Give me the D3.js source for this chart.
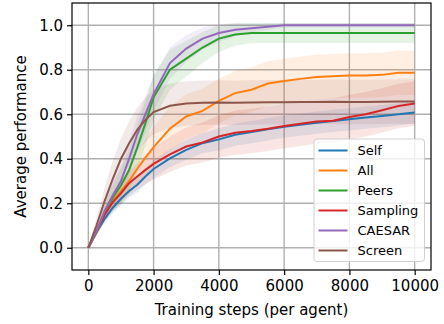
<!DOCTYPE html>
<html>
<head>
<meta charset="utf-8">
<script src="https://cdn.jsdelivr.net/npm/d3@7"></script>
<style>
    body { margin: 0; background: #fff; }
    text { font-family: "DejaVu Sans", sans-serif; fill: #000; }
</style>
</head>
<body>
<div id="chart"></div>
<script>
const steps = [0, 250, 500, 750, 1000, 1250, 1500, 1750, 2000, 2500, 3000, 3500, 4000,
    4500, 5000, 5500, 6000, 6500, 7000, 7500, 8000, 8500, 9000, 9500, 10000];

const seriesNames = ["Self", "All", "Peers", "Sampling", "CAESAR", "Screen"];
const seriesColors = ["#1f77b4", "#ff7f0e", "#2ca02c", "#d62728", "#9467bd", "#8c564b"];

// mean performance
const selfMean = [0, 0.07, 0.13, 0.18, 0.22, 0.255, 0.283, 0.32, 0.354, 0.402, 0.44, 0.47, 0.487,
    0.508, 0.52, 0.532, 0.544, 0.553, 0.562, 0.57, 0.577, 0.585, 0.592, 0.6, 0.608];
const allMean = [0, 0.07, 0.155, 0.21, 0.255, 0.3, 0.355, 0.405, 0.452, 0.535, 0.59, 0.615, 0.66,
    0.695, 0.71, 0.738, 0.749, 0.759, 0.767, 0.771, 0.774, 0.774, 0.777, 0.786, 0.786];
const peersMean = [0, 0.07, 0.16, 0.225, 0.28, 0.35, 0.45, 0.56, 0.676, 0.8, 0.85, 0.9, 0.94,
    0.958, 0.965, 0.965, 0.965, 0.965, 0.965, 0.965, 0.965, 0.965, 0.965, 0.965, 0.965];
const samplingMean = [0, 0.075, 0.148, 0.205, 0.245, 0.29, 0.32, 0.35, 0.377, 0.42, 0.455, 0.473, 0.5,
    0.517, 0.525, 0.535, 0.547, 0.557, 0.567, 0.571, 0.588, 0.6, 0.618, 0.637, 0.648];
const caesarMean = [0, 0.075, 0.165, 0.235, 0.3, 0.4, 0.51, 0.6, 0.69, 0.83, 0.895, 0.94, 0.965,
    0.98, 0.987, 0.993, 1.0, 1.0, 1.0, 1.0, 1.0, 1.0, 1.0, 1.0, 1.0];
const screenMean = [0, 0.1, 0.21, 0.31, 0.4, 0.47, 0.53, 0.575, 0.61, 0.638, 0.648, 0.652, 0.653,
    0.652, 0.653, 0.654, 0.654, 0.655, 0.655, 0.656, 0.655, 0.655, 0.656, 0.657, 0.657];

// spread of the shaded band (+/-)
const selfStd = [0, 0.01, 0.02, 0.025, 0.03, 0.03, 0.035, 0.035, 0.04, 0.04, 0.045, 0.045, 0.05,
    0.05, 0.05, 0.05, 0.05, 0.05, 0.05, 0.05, 0.05, 0.05, 0.05, 0.05, 0.05];
const allStd = [0, 0.015, 0.03, 0.04, 0.05, 0.06, 0.07, 0.08, 0.09, 0.1, 0.1, 0.1, 0.1,
    0.1, 0.1, 0.1, 0.1, 0.1, 0.1, 0.1, 0.1, 0.1, 0.1, 0.1, 0.1];
const peersStd = [0, 0.02, 0.04, 0.06, 0.08, 0.09, 0.1, 0.1, 0.1, 0.09, 0.08, 0.07, 0.06,
    0.05, 0.045, 0.045, 0.045, 0.045, 0.045, 0.045, 0.045, 0.045, 0.045, 0.045, 0.045];
const samplingStd = [0, 0.015, 0.03, 0.04, 0.05, 0.055, 0.06, 0.065, 0.07, 0.08, 0.085, 0.09, 0.095,
    0.1, 0.1, 0.1, 0.1, 0.1, 0.1, 0.1, 0.1, 0.1, 0.1, 0.1, 0.1];
const caesarStd = [0, 0.02, 0.04, 0.06, 0.07, 0.08, 0.08, 0.08, 0.08, 0.07, 0.06, 0.05, 0.04,
    0.03, 0.02, 0.015, 0.01, 0.01, 0.01, 0.01, 0.01, 0.01, 0.01, 0.01, 0.01];
const screenStd = [0, 0.03, 0.06, 0.08, 0.09, 0.1, 0.1, 0.1, 0.1, 0.1, 0.1, 0.1, 0.1,
    0.1, 0.1, 0.1, 0.1, 0.1, 0.1, 0.1, 0.1, 0.1, 0.1, 0.1, 0.1];

const xTicks = [0, 2000, 4000, 6000, 8000, 10000];
const yTicks = [0.0, 0.2, 0.4, 0.6, 0.8, 1.0];

const means = [selfMean, allMean, peersMean, samplingMean, caesarMean, screenMean];
const stds = [selfStd, allStd, peersStd, samplingStd, caesarStd, screenStd];

const series = seriesNames.map((name, i) => ({
    name: name,
    color: seriesColors[i],
    values: steps.map((s, j) => ({ step: s, mean: means[i][j], std: stds[i][j] }))
}));

// set the dimensions and margins of the graph
const totalWidth = 444, totalHeight = 324;
const margin = { top: 3, right: 13, bottom: 54, left: 72 };
const width = totalWidth - margin.left - margin.right;
const height = totalHeight - margin.top - margin.bottom;

const svg = d3.select("#chart")
    .append("svg")
    .attr("width", totalWidth)
    .attr("height", totalHeight)
    .append("g")
    .attr("transform", `translate(${margin.left},${margin.top})`);

const x = d3.scaleLinear().domain([-500, 10500]).range([0, width]);
const y = d3.scaleLinear().domain([-0.1, 1.1]).range([height, 0]);

// grid
svg.append("g")
    .selectAll("line")
    .data(xTicks)
    .join("line")
    .attr("x1", d => x(d)).attr("x2", d => x(d))
    .attr("y1", 0).attr("y2", height)
    .attr("stroke", "#b0b0b0")
    .attr("stroke-width", 1.4);
svg.append("g")
    .selectAll("line")
    .data(yTicks)
    .join("line")
    .attr("x1", 0).attr("x2", width)
    .attr("y1", d => y(d)).attr("y2", d => y(d))
    .attr("stroke", "#b0b0b0")
    .attr("stroke-width", 1.4);

// bands and lines
const area = d3.area()
    .x(d => x(d.step))
    .y0(d => y(d.mean - d.std))
    .y1(d => y(d.mean + d.std));
const line = d3.line()
    .x(d => x(d.step))
    .y(d => y(d.mean));

const content = svg.append("g");
series.forEach(s => {
    content.append("path")
        .attr("d", area(s.values))
        .attr("fill", s.color)
        .attr("fill-opacity", 0.12);
});
series.forEach(s => {
    content.append("path")
        .attr("d", line(s.values))
        .attr("fill", "none")
        .attr("stroke", s.color)
        .attr("stroke-width", 2);
});

// x axis
const xAxis = svg.append("g")
    .attr("transform", `translate(0,${height})`)
    .call(d3.axisBottom(x).tickValues(xTicks).tickFormat(d3.format("d")).tickSize(5).tickPadding(5));
// y axis
const yAxis = svg.append("g")
    .call(d3.axisLeft(y).tickValues(yTicks).tickFormat(d3.format(".1f")).tickSize(5).tickPadding(4));
[xAxis, yAxis].forEach(a => {
    a.select(".domain").remove();
    a.selectAll("line").attr("stroke", "#000").attr("stroke-width", 1.2);
    a.selectAll("text").style("font-size", "15px").style("font-family", "DejaVu Sans");
});

// frame
svg.append("rect")
    .attr("x", 0).attr("y", 0)
    .attr("width", width).attr("height", height)
    .attr("fill", "none")
    .attr("stroke", "#000")
    .attr("stroke-width", 1.2);

// axis labels
svg.append("text")
    .attr("text-anchor", "middle")
    .attr("x", width / 2)
    .attr("y", height + 45)
    .style("font-size", "15px")
    .text("Training steps (per agent)");
svg.append("text")
    .attr("text-anchor", "middle")
    .attr("transform", `translate(${-margin.left + 26},${height / 2}) rotate(-90)`)
    .style("font-size", "15px")
    .text("Average performance");

// legend
const legend = svg.append("g")
    .attr("transform", `translate(${width - 117},${height - 131})`);
legend.append("rect")
    .attr("width", 110.5)
    .attr("height", 122.5)
    .attr("rx", 3)
    .attr("fill", "#fff")
    .attr("fill-opacity", 0.8)
    .attr("stroke", "#d0d0d0")
    .attr("stroke-width", 1);
const items = legend.selectAll(".item")
    .data(series)
    .join("g")
    .attr("class", "item")
    .attr("transform", (d, i) => `translate(0,${11.5 + i * 20})`);
items.append("line")
    .attr("x1", 4.5).attr("x2", 33.5)
    .attr("stroke", d => d.color)
    .attr("stroke-width", 2);
items.append("text")
    .attr("x", 43.5)
    .attr("dy", "0.36em")
    .style("font-size", "13px")
    .text(d => d.name);
</script>
</body>
</html>
